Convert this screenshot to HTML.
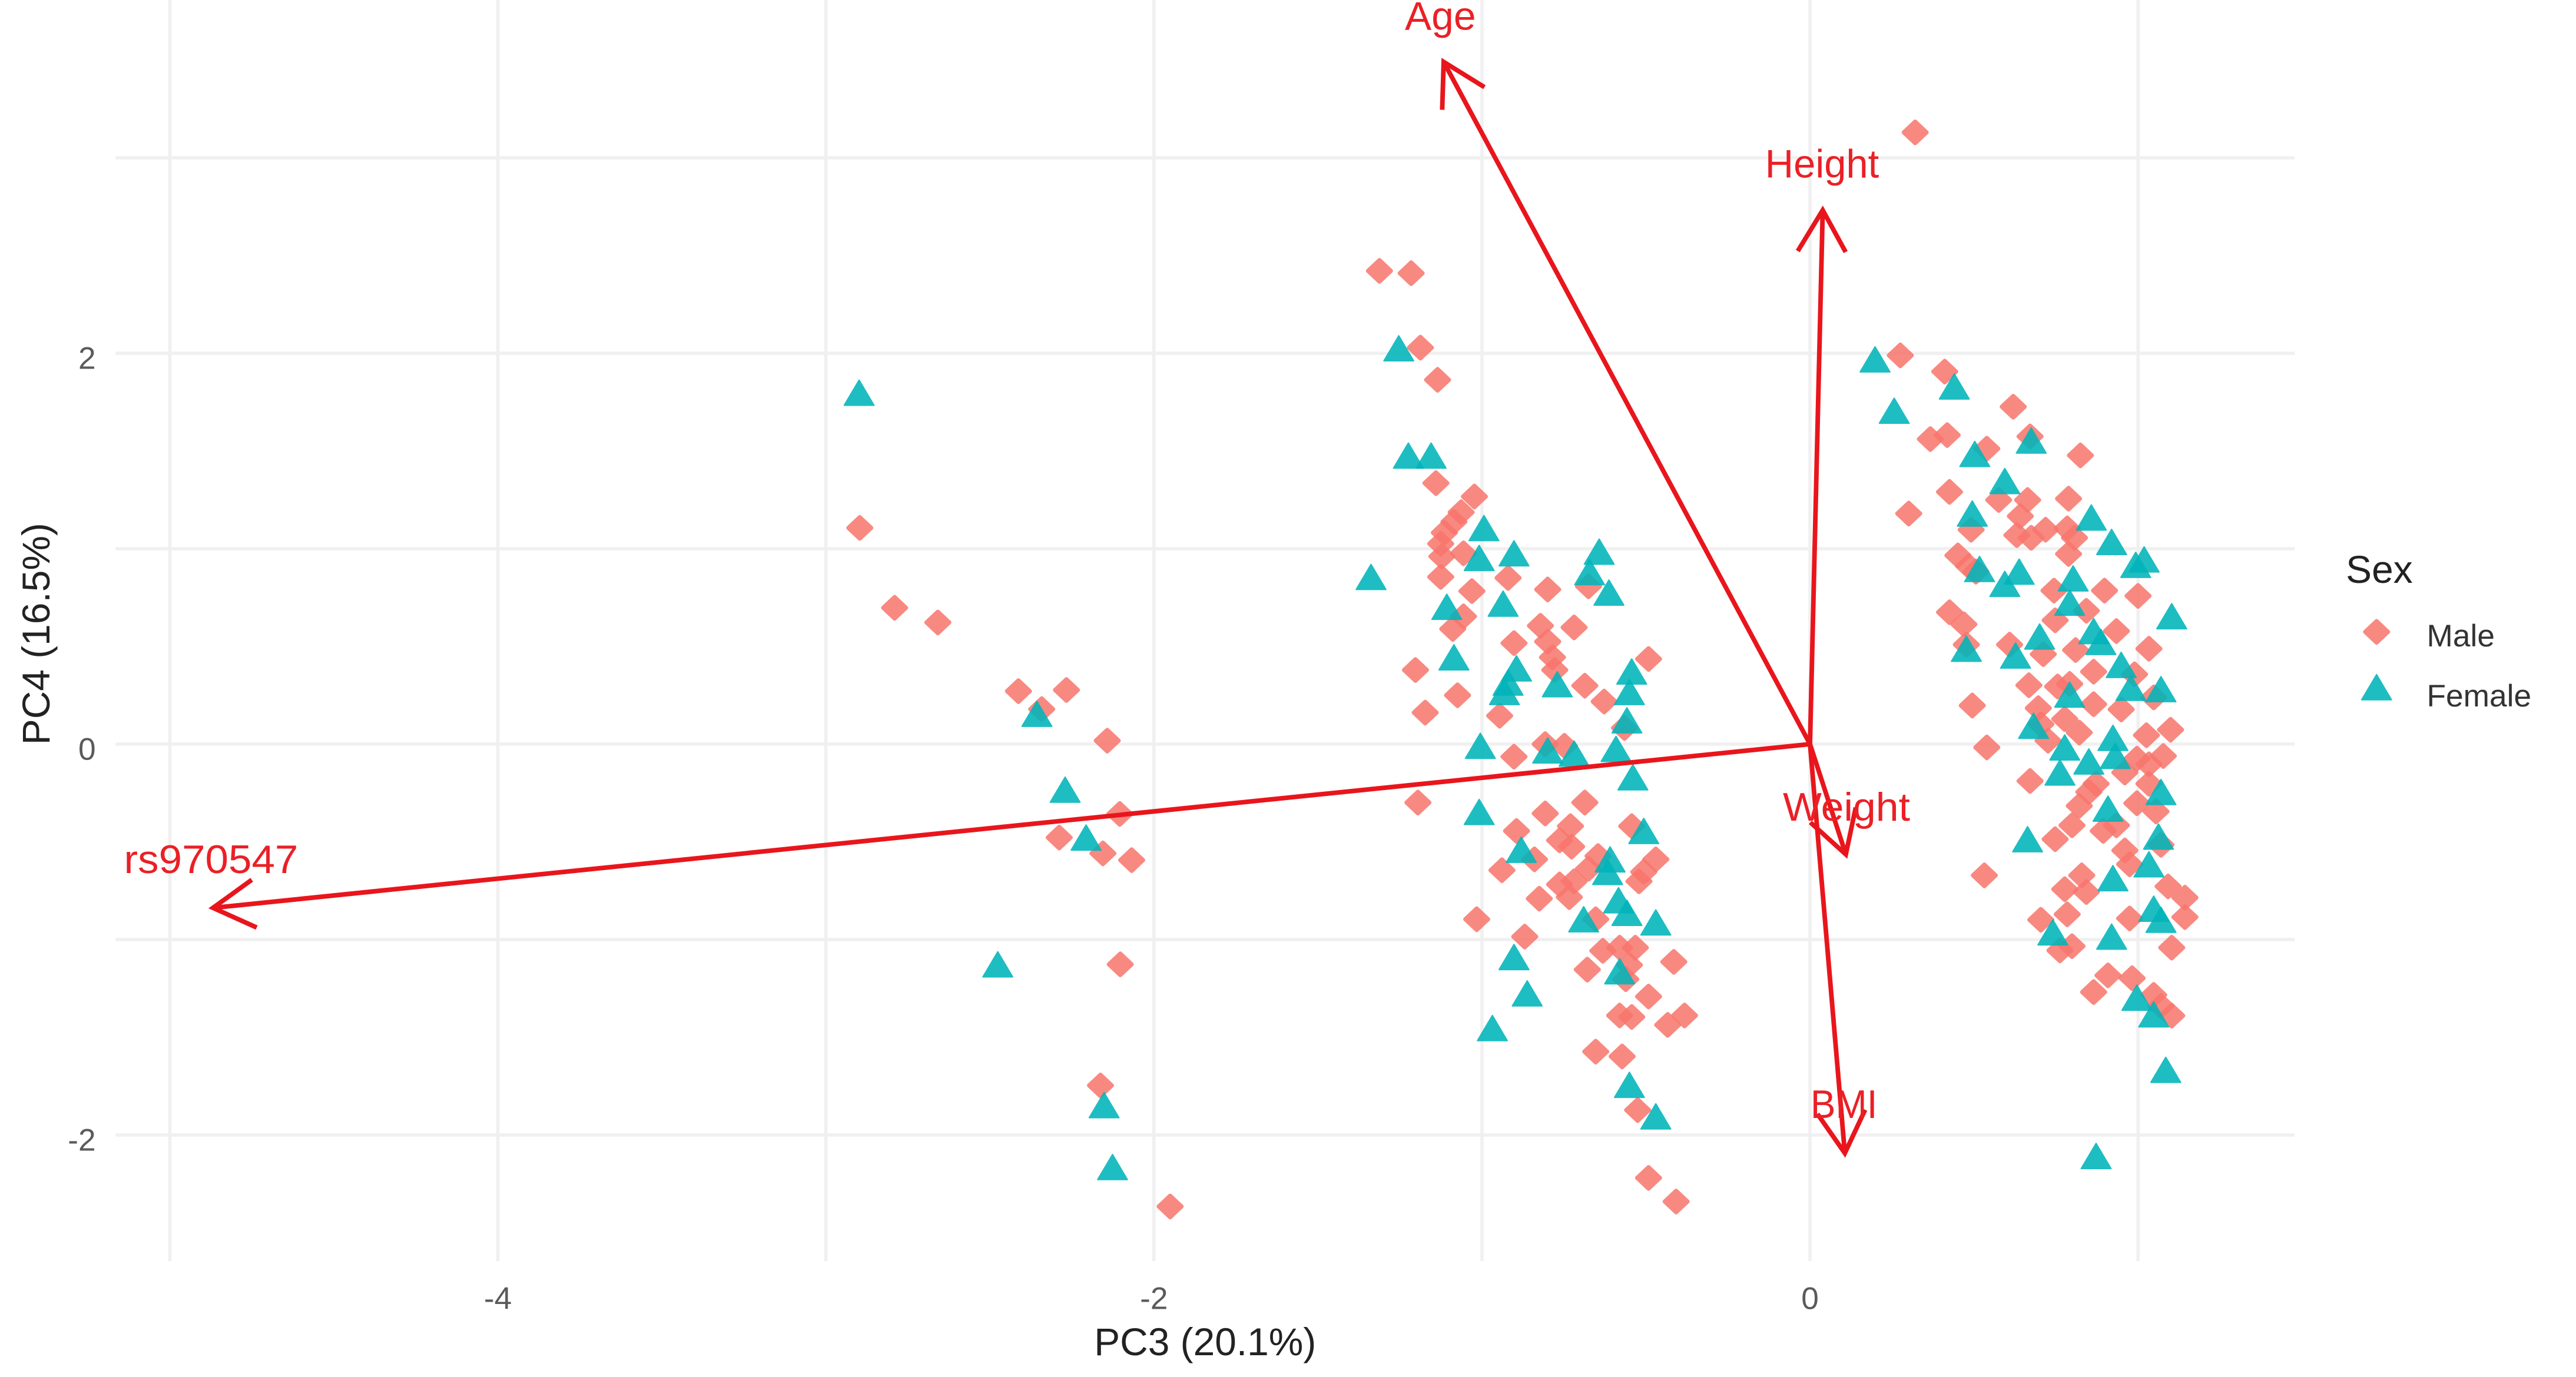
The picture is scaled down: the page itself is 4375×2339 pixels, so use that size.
<!DOCTYPE html>
<html><head><meta charset="utf-8"><style>
html,body{margin:0;padding:0;background:#fff;}
svg{display:block;}
text{font-family:"Liberation Sans",Arial,sans-serif;}
</style></head><body>
<svg xmlns="http://www.w3.org/2000/svg" width="4375" height="2339" viewBox="0 0 1560.4 834.2" preserveAspectRatio="none">
<rect x="0" y="0" width="1560.4" height="834.2" fill="#fff"/>
<defs>
<path id="m" d="M0,-6.6 L7.0,0 L0,6.6 L-7.0,0Z" fill="#F8766D" stroke="#F8766D" stroke-width="2.4" stroke-linejoin="round" opacity="0.86"/>
<path id="f" d="M0,-7.6 L9,7.6 L-9,7.6Z" fill="#00B5BA" stroke="#00B5BA" stroke-width="0.8" stroke-linejoin="round" opacity="0.88"/>
</defs>
<g stroke="#f0f0f0" stroke-width="2" fill="none">
<line x1="102.9" y1="0" x2="102.9" y2="764"/>
<line x1="301.6" y1="0" x2="301.6" y2="764"/>
<line x1="500.3" y1="0" x2="500.3" y2="764"/>
<line x1="699.0" y1="0" x2="699.0" y2="764"/>
<line x1="897.7" y1="0" x2="897.7" y2="764"/>
<line x1="1096.4" y1="0" x2="1096.4" y2="764"/>
<line x1="1295.1" y1="0" x2="1295.1" y2="764"/>
<line x1="70" y1="95.6" x2="1390" y2="95.6"/>
<line x1="70" y1="214.0" x2="1390" y2="214.0"/>
<line x1="70" y1="332.4" x2="1390" y2="332.4"/>
<line x1="70" y1="450.8" x2="1390" y2="450.8"/>
<line x1="70" y1="569.2" x2="1390" y2="569.2"/>
<line x1="70" y1="687.6" x2="1390" y2="687.6"/>
</g>
<g>
<use href="#m" x="520.8" y="319.8"/><use href="#m" x="541.9" y="368.2"/><use href="#m" x="568.1" y="377.1"/><use href="#m" x="616.9" y="418.7"/><use href="#m" x="646.0" y="418.0"/><use href="#m" x="631.0" y="429.6"/><use href="#m" x="670.7" y="448.7"/><use href="#m" x="678.3" y="493.1"/><use href="#m" x="641.6" y="507.4"/><use href="#m" x="668.1" y="517.0"/><use href="#m" x="685.5" y="521.1"/><use href="#m" x="678.6" y="584.2"/><use href="#m" x="666.6" y="657.6"/><use href="#m" x="708.8" y="730.9"/>
<use href="#m" x="835.6" y="164.1"/><use href="#m" x="854.8" y="165.5"/><use href="#m" x="860.4" y="210.6"/><use href="#m" x="870.8" y="230.1"/><use href="#m" x="869.8" y="292.7"/><use href="#m" x="893.1" y="300.8"/><use href="#m" x="885.1" y="310.3"/><use href="#m" x="880.7" y="316.1"/><use href="#m" x="874.9" y="322.7"/><use href="#m" x="872.7" y="329.4"/><use href="#m" x="873.4" y="337.1"/><use href="#m" x="886.5" y="335.2"/><use href="#m" x="872.7" y="349.5"/><use href="#m" x="891.6" y="358.1"/><use href="#m" x="937.5" y="357.1"/><use href="#m" x="913.5" y="350.1"/><use href="#m" x="886.5" y="373.4"/><use href="#m" x="880.0" y="381.0"/><use href="#m" x="857.4" y="405.9"/><use href="#m" x="882.9" y="421.2"/><use href="#m" x="863.3" y="431.7"/><use href="#m" x="908.4" y="433.6"/><use href="#m" x="917.1" y="389.6"/><use href="#m" x="933.1" y="379.1"/><use href="#m" x="937.5" y="388.7"/><use href="#m" x="953.5" y="380.1"/><use href="#m" x="940.4" y="398.2"/><use href="#m" x="941.8" y="405.9"/><use href="#m" x="960.0" y="415.4"/><use href="#m" x="971.7" y="425.0"/><use href="#m" x="998.6" y="399.2"/><use href="#m" x="962.2" y="355.2"/><use href="#m" x="984.0" y="441.0"/>
<use href="#m" x="917.1" y="458.4"/><use href="#m" x="936.0" y="450.8"/><use href="#m" x="947.6" y="451.8"/><use href="#m" x="858.9" y="486.2"/><use href="#m" x="960.0" y="486.2"/><use href="#m" x="936.0" y="492.8"/><use href="#m" x="918.6" y="503.4"/><use href="#m" x="951.3" y="500.5"/><use href="#m" x="944.7" y="509.1"/><use href="#m" x="952.0" y="512.9"/><use href="#m" x="929.5" y="520.6"/><use href="#m" x="909.8" y="527.2"/><use href="#m" x="968.0" y="518.6"/><use href="#m" x="962.2" y="526.3"/><use href="#m" x="953.5" y="533.9"/><use href="#m" x="944.7" y="535.8"/><use href="#m" x="950.6" y="543.5"/><use href="#m" x="988.4" y="500.5"/><use href="#m" x="1003.0" y="520.6"/><use href="#m" x="995.7" y="528.2"/><use href="#m" x="992.8" y="533.9"/><use href="#m" x="932.4" y="544.4"/><use href="#m" x="894.5" y="556.9"/><use href="#m" x="966.6" y="556.9"/><use href="#m" x="923.6" y="567.4"/><use href="#m" x="970.9" y="576.0"/><use href="#m" x="981.1" y="574.1"/><use href="#m" x="990.6" y="574.1"/><use href="#m" x="987.0" y="584.6"/><use href="#m" x="961.5" y="587.4"/><use href="#m" x="984.8" y="593.2"/><use href="#m" x="1013.9" y="582.7"/><use href="#m" x="998.6" y="603.7"/><use href="#m" x="981.1" y="615.2"/><use href="#m" x="988.4" y="616.1"/><use href="#m" x="1010.2" y="620.9"/><use href="#m" x="1020.4" y="615.2"/><use href="#m" x="966.6" y="637.1"/><use href="#m" x="982.6" y="640.0"/><use href="#m" x="992.0" y="672.5"/><use href="#m" x="998.6" y="713.6"/><use href="#m" x="1015.3" y="727.9"/>
<use href="#m" x="1160.1" y="80.2"/>
<use href="#m" x="1151.1" y="215.3"/><use href="#m" x="1178.0" y="225.1"/><use href="#m" x="1219.5" y="246.4"/><use href="#m" x="1169.3" y="266.0"/><use href="#m" x="1179.5" y="263.6"/><use href="#m" x="1203.5" y="271.8"/><use href="#m" x="1229.7" y="264.4"/><use href="#m" x="1260.2" y="275.9"/><use href="#m" x="1180.9" y="298.0"/><use href="#m" x="1156.2" y="311.1"/><use href="#m" x="1210.7" y="302.9"/><use href="#m" x="1228.2" y="302.9"/><use href="#m" x="1253.0" y="302.1"/><use href="#m" x="1223.8" y="312.7"/><use href="#m" x="1194.0" y="320.9"/><use href="#m" x="1221.7" y="324.2"/><use href="#m" x="1230.4" y="325.8"/><use href="#m" x="1239.1" y="320.9"/><use href="#m" x="1252.2" y="320.1"/><use href="#m" x="1256.6" y="325.8"/><use href="#m" x="1253.0" y="335.6"/><use href="#m" x="1186.0" y="336.5"/><use href="#m" x="1192.5" y="343.0"/><use href="#m" x="1196.9" y="346.3"/><use href="#m" x="1244.2" y="357.8"/><use href="#m" x="1274.8" y="357.8"/><use href="#m" x="1295.1" y="361.0"/><use href="#m" x="1180.9" y="370.9"/><use href="#m" x="1189.6" y="378.2"/><use href="#m" x="1191.1" y="390.5"/><use href="#m" x="1217.3" y="390.5"/><use href="#m" x="1263.8" y="370.0"/><use href="#m" x="1244.9" y="375.8"/><use href="#m" x="1282.0" y="382.3"/><use href="#m" x="1237.7" y="396.3"/><use href="#m" x="1257.3" y="393.8"/><use href="#m" x="1301.7" y="393.0"/><use href="#m" x="1268.2" y="406.9"/><use href="#m" x="1293.0" y="408.5"/><use href="#m" x="1229.0" y="415.1"/><use href="#m" x="1246.4" y="415.9"/><use href="#m" x="1253.7" y="414.3"/><use href="#m" x="1194.7" y="427.4"/><use href="#m" x="1268.2" y="426.6"/><use href="#m" x="1284.9" y="429.8"/><use href="#m" x="1304.6" y="422.5"/><use href="#m" x="1234.7" y="429.0"/><use href="#m" x="1236.2" y="438.8"/><use href="#m" x="1250.7" y="435.6"/><use href="#m" x="1259.5" y="443.8"/><use href="#m" x="1300.2" y="445.4"/><use href="#m" x="1314.8" y="442.1"/><use href="#m" x="1203.5" y="452.8"/><use href="#m" x="1240.6" y="448.7"/>
<use href="#m" x="1229.7" y="473.1"/><use href="#m" x="1244.9" y="508.4"/><use href="#m" x="1255.1" y="500.0"/><use href="#m" x="1259.5" y="488.2"/><use href="#m" x="1265.3" y="479.8"/><use href="#m" x="1269.7" y="474.8"/><use href="#m" x="1274.0" y="503.4"/><use href="#m" x="1282.0" y="500.0"/><use href="#m" x="1287.1" y="468.0"/><use href="#m" x="1294.4" y="459.6"/><use href="#m" x="1301.7" y="463.0"/><use href="#m" x="1310.4" y="458.0"/><use href="#m" x="1301.7" y="474.8"/><use href="#m" x="1294.4" y="486.6"/><use href="#m" x="1306.0" y="491.6"/><use href="#m" x="1309.0" y="511.8"/><use href="#m" x="1287.1" y="515.2"/><use href="#m" x="1290.0" y="523.6"/><use href="#m" x="1202.0" y="530.3"/><use href="#m" x="1261.0" y="530.3"/><use href="#m" x="1250.7" y="538.7"/><use href="#m" x="1263.8" y="540.4"/><use href="#m" x="1252.2" y="553.9"/><use href="#m" x="1236.2" y="557.2"/><use href="#m" x="1313.3" y="537.0"/><use href="#m" x="1323.5" y="543.8"/><use href="#m" x="1323.5" y="555.6"/><use href="#m" x="1290.0" y="556.4"/><use href="#m" x="1247.8" y="575.8"/><use href="#m" x="1255.1" y="573.2"/><use href="#m" x="1315.5" y="574.1"/><use href="#m" x="1268.2" y="601.0"/><use href="#m" x="1276.9" y="590.9"/><use href="#m" x="1291.5" y="592.6"/><use href="#m" x="1304.6" y="602.7"/><use href="#m" x="1309.0" y="609.4"/><use href="#m" x="1315.5" y="615.3"/>
</g>
<g>
<use href="#f" x="520.4" y="237.9"/><use href="#f" x="628.1" y="432.4"/><use href="#f" x="645.2" y="478.4"/><use href="#f" x="657.9" y="507.4"/><use href="#f" x="604.4" y="584.2"/><use href="#f" x="668.8" y="669.5"/><use href="#f" x="673.9" y="707.0"/>
<use href="#f" x="847.3" y="211.0"/><use href="#f" x="853.1" y="276.0"/><use href="#f" x="866.9" y="276.0"/><use href="#f" x="830.5" y="349.5"/><use href="#f" x="898.9" y="319.9"/><use href="#f" x="896.0" y="338.0"/><use href="#f" x="917.1" y="335.2"/><use href="#f" x="968.7" y="334.2"/><use href="#f" x="962.9" y="346.6"/><use href="#f" x="974.6" y="359.0"/><use href="#f" x="876.4" y="367.6"/><use href="#f" x="910.5" y="365.7"/><use href="#f" x="880.7" y="398.2"/><use href="#f" x="918.6" y="404.9"/><use href="#f" x="913.5" y="413.5"/><use href="#f" x="911.3" y="419.2"/><use href="#f" x="943.3" y="414.5"/><use href="#f" x="988.4" y="406.8"/><use href="#f" x="987.0" y="419.2"/><use href="#f" x="985.5" y="436.4"/>
<use href="#f" x="896.7" y="451.8"/><use href="#f" x="937.5" y="454.6"/><use href="#f" x="953.5" y="456.5"/><use href="#f" x="978.9" y="453.7"/><use href="#f" x="989.1" y="470.9"/><use href="#f" x="896.0" y="491.9"/><use href="#f" x="921.5" y="514.8"/><use href="#f" x="975.3" y="520.6"/><use href="#f" x="973.8" y="528.2"/><use href="#f" x="995.7" y="503.4"/><use href="#f" x="980.4" y="545.4"/><use href="#f" x="985.5" y="553.0"/><use href="#f" x="959.3" y="556.9"/><use href="#f" x="1003.0" y="558.8"/><use href="#f" x="917.1" y="579.8"/><use href="#f" x="981.1" y="588.4"/><use href="#f" x="925.1" y="601.8"/><use href="#f" x="904.0" y="622.8"/><use href="#f" x="987.0" y="657.2"/><use href="#f" x="1003.0" y="676.3"/>
<use href="#f" x="1135.8" y="217.7"/><use href="#f" x="1183.8" y="234.1"/><use href="#f" x="1147.4" y="248.8"/><use href="#f" x="1196.2" y="275.0"/><use href="#f" x="1230.4" y="266.9"/><use href="#f" x="1214.4" y="291.4"/><use href="#f" x="1194.7" y="311.1"/><use href="#f" x="1266.8" y="313.5"/><use href="#f" x="1279.1" y="328.3"/><use href="#f" x="1298.8" y="338.9"/><use href="#f" x="1293.7" y="342.2"/><use href="#f" x="1199.1" y="344.7"/><use href="#f" x="1223.1" y="346.3"/><use href="#f" x="1214.4" y="353.7"/><use href="#f" x="1255.8" y="350.4"/><use href="#f" x="1253.7" y="365.1"/><use href="#f" x="1315.5" y="373.3"/><use href="#f" x="1235.5" y="385.6"/><use href="#f" x="1268.2" y="382.3"/><use href="#f" x="1272.6" y="388.9"/><use href="#f" x="1191.1" y="393.0"/><use href="#f" x="1220.9" y="397.1"/><use href="#f" x="1284.9" y="402.8"/><use href="#f" x="1290.8" y="416.7"/><use href="#f" x="1309.0" y="417.5"/><use href="#f" x="1253.7" y="420.8"/><use href="#f" x="1231.8" y="439.7"/><use href="#f" x="1279.9" y="447.0"/><use href="#f" x="1250.7" y="452.8"/>
<use href="#f" x="1247.8" y="468.0"/><use href="#f" x="1265.3" y="461.3"/><use href="#f" x="1281.3" y="457.9"/><use href="#f" x="1276.9" y="489.9"/><use href="#f" x="1309.0" y="479.8"/><use href="#f" x="1307.5" y="506.8"/><use href="#f" x="1228.2" y="508.4"/><use href="#f" x="1301.7" y="523.6"/><use href="#f" x="1279.9" y="532.0"/><use href="#f" x="1304.6" y="550.5"/><use href="#f" x="1309.0" y="557.2"/><use href="#f" x="1243.5" y="564.8"/><use href="#f" x="1279.1" y="567.4"/><use href="#f" x="1294.4" y="604.4"/><use href="#f" x="1304.6" y="614.5"/><use href="#f" x="1311.9" y="648.1"/><use href="#f" x="1269.7" y="700.3"/>
</g>
<g stroke="#e8161c" stroke-width="2.8" fill="none" stroke-linecap="butt" stroke-linejoin="miter">
<line x1="1096.4" y1="450.8" x2="874.5" y2="37.5"/>
<polyline points="899.2,52.8 874.5,37.5 873.6,66.5"/>
<line x1="1096.4" y1="450.8" x2="1104.1" y2="127.3"/>
<polyline points="1118.0,152.7 1104.1,127.3 1089.0,152.1"/>
<line x1="1096.4" y1="450.8" x2="129" y2="550"/>
<polyline points="152.5,533.0 129,550 155.5,561.9"/>
<line x1="1096.4" y1="450.8" x2="1118.1" y2="517.6"/>
<polyline points="1096.6,498.2 1118.1,517.6 1124.1,489.2"/>
<line x1="1096.4" y1="450.8" x2="1117.5" y2="698.6"/>
<polyline points="1100.9,674.8 1117.5,698.6 1129.8,672.3"/>
</g>
<g fill="#ea2026" font-size="24">
<text x="851" y="18" textLength="43" lengthAdjust="spacingAndGlyphs">Age</text>
<text x="1069.2" y="107.6" textLength="69" lengthAdjust="spacingAndGlyphs">Height</text>
<text x="1080" y="497.2" textLength="77" lengthAdjust="spacingAndGlyphs">Weight</text>
<text x="1096.7" y="677.3" textLength="40.5" lengthAdjust="spacingAndGlyphs">BMI</text>
<text x="75.1" y="529" textLength="105.5" lengthAdjust="spacingAndGlyphs">rs970547</text>
</g>
<g fill="#5a5a5a" font-size="19">
<text x="301.6" y="793" text-anchor="middle">-4</text>
<text x="699.0" y="793" text-anchor="middle">-2</text>
<text x="1096.4" y="793" text-anchor="middle">0</text>
<text x="58" y="223.5" text-anchor="end">2</text>
<text x="58" y="460.3" text-anchor="end">0</text>
<text x="58" y="697.1" text-anchor="end">-2</text>
</g>
<g fill="#222" font-size="23.5">
<text x="730" y="821" text-anchor="middle">PC3 (20.1%)</text>
<text transform="translate(30,384) rotate(-90)" text-anchor="middle">PC4 (16.5%)</text>
<text x="1421" y="353">Sex</text>
</g>
<use href="#m" x="1439.6" y="382.8"/>
<use href="#f" x="1439.6" y="416.3"/>
<g fill="#333" font-size="19">
<text x="1470" y="391.6">Male</text>
<text x="1470" y="428">Female</text>
</g>
</svg>
</body></html>
